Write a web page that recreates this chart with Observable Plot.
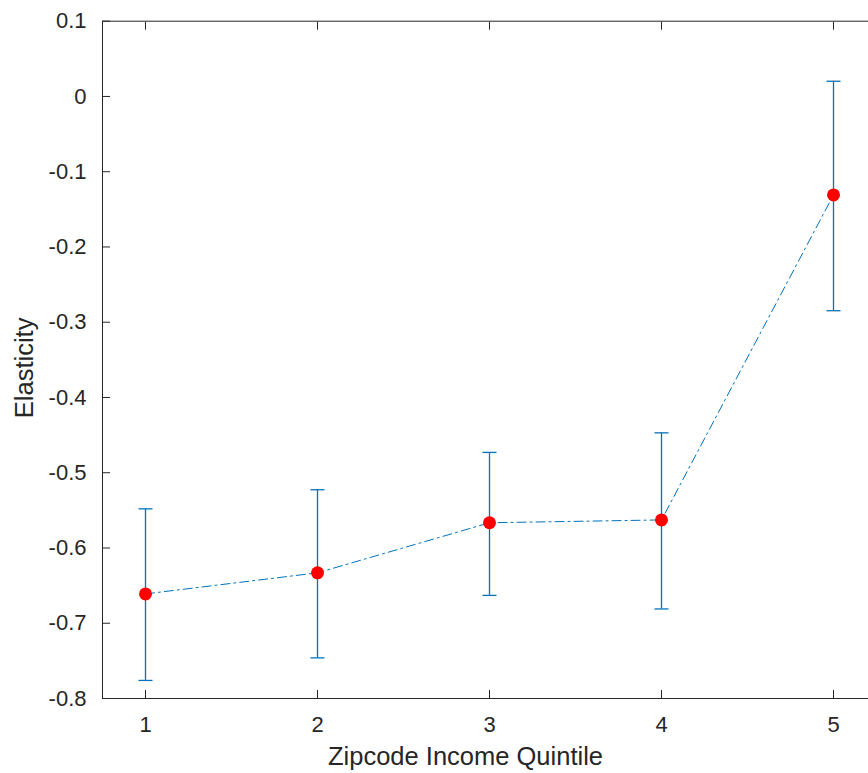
<!DOCTYPE html>
<html>
<head>
<meta charset="utf-8">
<script src="https://cdn.jsdelivr.net/npm/d3@7"></script>
<script src="https://cdn.jsdelivr.net/npm/@observablehq/plot@0.6"></script>
<style>
  html, body { margin: 0; padding: 0; overflow: hidden; background: #fff; }
  #chart { width: 880px; }
</style>
</head>
<body>
<div id="chart"></div>
<script>
const quintiles = [1, 2, 3, 4, 5];
const elasticity = [-0.661, -0.633, -0.5665, -0.5627, -0.1308];
const upper = [-0.548, -0.5226, -0.473, -0.447, 0.0202];
const lower = [-0.776, -0.746, -0.663, -0.681, -0.2847];
const xTicks = [1, 2, 3, 4, 5];
const yTicks = [0.1, 0, -0.1, -0.2, -0.3, -0.4, -0.5, -0.6, -0.7, -0.8];
const xLabel = "Zipcode Income Quintile";
const yLabel = "Elasticity";

const data = quintiles.map((q, i) => ({q, e: elasticity[i], hi: upper[i], lo: lower[i]}));

const blue = "#0072BD";
const ink = "#262626";
const font = "Liberation Sans, Arial, Helvetica, sans-serif";

// horizontal cap symbol for error bars
const capSymbol = {
  draw(context, size) {
    const w = Math.sqrt(size / Math.PI);
    context.moveTo(-w, 0);
    context.lineTo(w, 0);
  }
};

const chart = Plot.plot({
  width: 880,
  height: 773,
  marginLeft: 102,
  marginRight: 4,
  marginTop: 20.7,
  marginBottom: 75,
  style: {fontFamily: font, fontSize: "22px", color: ink, background: "#fff"},
  x: {type: "linear", domain: [0.75, 5.25]},
  y: {type: "linear", domain: [-0.8, 0.1]},
  marks: [
    Plot.axisX({anchor: "bottom", ticks: xTicks, tickSize: -8, tickPadding: 26, tickFormat: d => String(d),
      label: null, fontSize: 22, stroke: ink, fill: ink}),
    Plot.axisX({anchor: "top", ticks: xTicks, tickSize: -8, tickFormat: () => "", label: null, stroke: ink}),
    Plot.axisY({anchor: "left", ticks: yTicks, tickSize: -8, tickPadding: 24, tickFormat: d => (d === 0 ? "0" : String(d)),
      label: null, fontSize: 22, stroke: ink, fill: ink}),
    Plot.axisY({anchor: "right", ticks: yTicks, tickSize: -8, tickFormat: () => "", label: null, stroke: ink}),
    Plot.frame({stroke: ink, strokeWidth: 1}),
    Plot.text([xLabel], {frameAnchor: "bottom", dx: -24, dy: 58, fontSize: 25.5, fill: ink, textAnchor: "middle", lineAnchor: "middle"}),
    Plot.text([yLabel], {frameAnchor: "left", dx: -78, dy: 8, rotate: -90, fontSize: 25.5, fill: ink, textAnchor: "middle", lineAnchor: "middle"}),
    Plot.ruleX(data, {x: "q", y1: "lo", y2: "hi", stroke: blue, strokeWidth: 1.3}),
    Plot.dot(data, {x: "q", y: "hi", symbol: capSymbol, r: 7, stroke: blue, strokeWidth: 1.3, fill: "none"}),
    Plot.dot(data, {x: "q", y: "lo", symbol: capSymbol, r: 7, stroke: blue, strokeWidth: 1.3, fill: "none"}),
    Plot.line(data, {x: "q", y: "e", stroke: blue, strokeWidth: 1, strokeDasharray: "9,4,2,4"}),
    Plot.dot(data, {x: "q", y: "e", r: 6.5, fill: "#FF0000", stroke: "none"})
  ]
});
document.getElementById("chart").append(chart);
</script>
</body>
</html>
